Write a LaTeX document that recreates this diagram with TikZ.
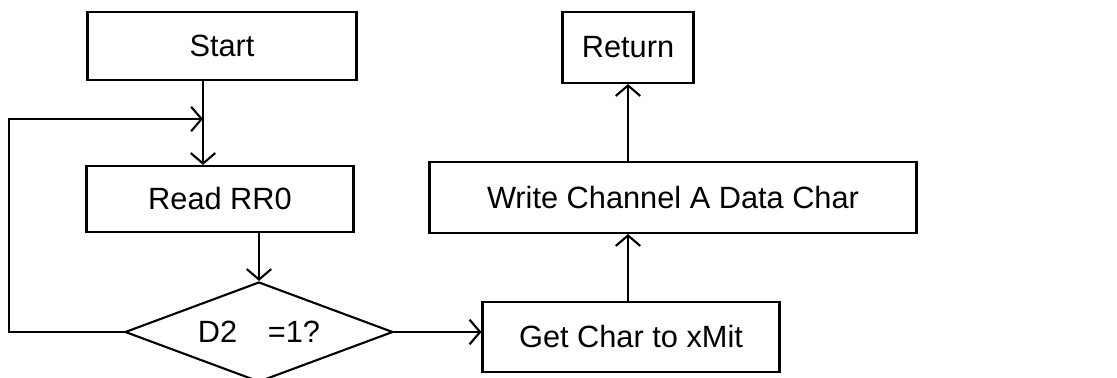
\documentclass[tikz,border=0pt]{standalone}
\usepackage{fontspec}
\setmainfont{Liberation Sans}
\usetikzlibrary{arrows.meta,shapes.geometric}

\tikzset{
    box/.style={draw, line width=1.2pt, inner sep=0pt},
    arr/.style={-{Straight Barb[length=6pt,width=14pt]}, line width=1.2pt}
}

\begin{document}
\begin{tikzpicture}[x=0.02cm, y=-0.02cm, font=\fontsize{17.5}{20}\selectfont]
            \useasboundingbox (0, 0) rectangle (1117, 378);
            \clip (0, 0) rectangle (1117, 378);

            \node[box, minimum width=5.38cm, minimum height=1.36cm] (start) at (222, 46) {Start};

            \node[box, minimum width=5.34cm, minimum height=1.32cm] (read) at (220, 199) {Read RR0};

            \node[box, diamond, aspect=2.68, minimum width=5.36cm, minimum height=2cm] (test) at (259, 332) {D2\quad=1?};

            \node[box, minimum width=5.94cm, minimum height=1.4cm] (get) at (631, 337) {Get Char to xMit};

            \node[box, minimum width=9.74cm, minimum height=1.42cm] (write) at (673, 197.5) {Write Channel A Data Char};

            \node[box, minimum width=2.62cm, minimum height=1.42cm] (ret) at (628, 47.5) {Return};

            \coordinate (join) at (203, 119);

            \coordinate (corner) at (9, 119);

            \draw[arr] (start.south -| join) -- (read.north -| join);

            \draw[arr] (test.west) -| (corner) -- (join);

            \draw[arr] (read.south -| test.north) -- (test.north);

            \draw[arr] (test.east) -- (test.east -| get.west);

            \draw[arr] (get.north -| ret.south) -- (write.south -| ret.south);

            \draw[arr] (write.north -| ret.south) -- (ret.south);
        \end{tikzpicture}
\end{document}
